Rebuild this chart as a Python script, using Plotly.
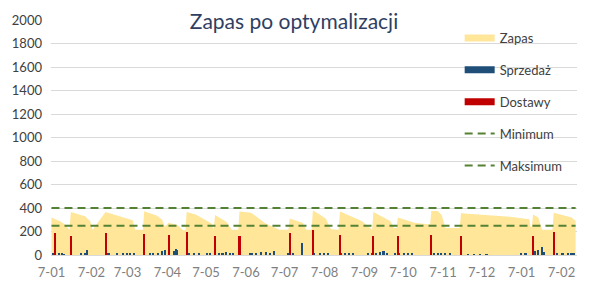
import plotly.graph_objects as go

# ---------------- data ----------------
TITLE = "Zapas po optymalizacji"

# Zapas (stock level) - vertices
zapas_dates = [
    "2017-01-01", "2017-01-08", "2017-01-12", "2017-01-15", "2017-01-16", "2017-01-27", "2017-01-31",
    "2017-02-02", "2017-02-12", "2017-02-26", "2017-03-05", "2017-03-07", "2017-03-13", "2017-03-14",
    "2017-03-24", "2017-03-28", "2017-03-30", "2017-04-02", "2017-04-09", "2017-04-13", "2017-04-15",
    "2017-04-16", "2017-04-23", "2017-05-05", "2017-05-07", "2017-05-08", "2017-05-17", "2017-05-21",
    "2017-05-26", "2017-05-27", "2017-06-05", "2017-06-16", "2017-06-22", "2017-06-27", "2017-07-04",
    "2017-07-05", "2017-07-15", "2017-07-18", "2017-07-22", "2017-07-23", "2017-08-02", "2017-08-06",
    "2017-08-12", "2017-08-13", "2017-08-30", "2017-09-03", "2017-09-07", "2017-09-08", "2017-09-21",
    "2017-09-24", "2017-09-26", "2017-09-27", "2017-10-10", "2017-10-22", "2017-10-23", "2017-10-28",
    "2017-10-31", "2017-11-03", "2017-11-14", "2017-11-15", "2017-12-05", "2017-12-23", "2018-01-07",
    "2018-01-08", "2018-01-09", "2018-01-10", "2018-01-14", "2018-01-17", "2018-01-25", "2018-01-26",
    "2018-02-09", "2018-02-12",
]
zapas_values = [
    320, 285, 255, 210, 365, 330, 290,
    215, 365, 320, 295, 215, 215, 373,
    335, 300, 240, 275, 255, 210, 210,
    365, 345, 270, 215, 340, 280, 215,
    215, 370, 360, 270, 240, 215, 215,
    310, 275, 215, 215, 380, 310, 220,
    215, 370, 290, 250, 215, 365, 290,
    230, 230, 320, 275, 260, 375, 375,
    340, 230, 230, 355, 340, 325, 305,
    240, 240, 345, 320, 215, 215, 360,
    320, 290,
]

# Sprzedaż (sales)
sales_dates = [
    "2017-01-02", "2017-01-04", "2017-01-07", "2017-01-09", "2017-01-11", "2017-01-24", "2017-01-27",
    "2017-01-29", "2017-02-13", "2017-02-15", "2017-02-21", "2017-02-26", "2017-03-01", "2017-03-03",
    "2017-03-06", "2017-03-19", "2017-03-21", "2017-03-25", "2017-03-28", "2017-03-30", "2017-04-06",
    "2017-04-08", "2017-04-09", "2017-04-18", "2017-04-22", "2017-04-26", "2017-05-02", "2017-05-04",
    "2017-05-11", "2017-05-14", "2017-05-17", "2017-05-20", "2017-05-22", "2017-06-04", "2017-06-06",
    "2017-06-09", "2017-06-13", "2017-06-17", "2017-06-20", "2017-06-23", "2017-07-04", "2017-07-08",
    "2017-07-15", "2017-07-24", "2017-07-29", "2017-08-01", "2017-08-04", "2017-08-14", "2017-08-17",
    "2017-08-20", "2017-08-23", "2017-09-04", "2017-09-07", "2017-09-10", "2017-09-13", "2017-09-16",
    "2017-09-19", "2017-09-25", "2017-09-28", "2017-10-02", "2017-10-05", "2017-10-08", "2017-10-23",
    "2017-10-25", "2017-10-28", "2017-10-31", "2017-11-03", "2017-11-07", "2017-11-21", "2017-11-25",
    "2017-11-30", "2017-12-05", "2018-01-01", "2018-01-04", "2018-01-05", "2018-01-12", "2018-01-14",
    "2018-01-17", "2018-01-19", "2018-01-29", "2018-02-02", "2018-02-06", "2018-02-09", "2018-02-11",
]
sales_values = [
    15, 20, 10, 18, 8, 12, 20,
    45, 10, 15, 10, 15, 20, 12,
    18, 15, 20, 12, 35, 40, 30,
    55, 45, 15, 12, 15, 18, 12,
    20, 15, 25, 12, 18, 15, 20,
    15, 22, 25, 18, 30, 10, 12,
    100, 15, 10, 12, 15, 15, 20,
    12, 18, 15, 20, 12, 25, 30,
    18, 12, 15, 20, 12, 15, 12,
    15, 18, 10, 12, 10, 8, 8,
    6, 8, 10, 15, 12, 30, 45,
    70, 25, 10, 12, 15, 12, 10,
]

# Dostawy (deliveries)
delivery_dates = [
    "2017-01-04", "2017-01-16", "2017-02-12", "2017-03-14", "2017-04-02", "2017-04-16",
    "2017-05-08", "2017-05-27", "2017-07-05", "2017-07-23", "2017-08-13", "2017-09-08",
    "2017-09-27", "2017-10-23", "2017-11-15", "2018-01-10", "2018-01-26",
]
delivery_values = [
    185, 160, 185, 180, 170, 200,
    165, 165, 185, 213, 172, 166,
    166, 172, 160, 166, 199,
]

MIN_LEVEL = 250
MAX_LEVEL = 400
level_dates = ["2017-01-01", "2018-02-12"]

tick_dates = [
    "2017-01-01", "2017-02-01", "2017-03-01", "2017-04-01", "2017-05-01", "2017-06-01", "2017-07-01",
    "2017-08-01", "2017-09-01", "2017-10-01", "2017-11-01", "2017-12-01", "2018-01-01", "2018-02-01",
]
tick_labels = ["7-01", "7-02", "7-03", "7-04", "7-05", "7-06", "7-07",
               "7-08", "7-09", "7-10", "7-11", "7-12", "7-01", "7-02"]

# ---------------- styles ----------------
C_ZAPAS = "#FFE699"
C_SALES = "#1F4E79"
C_DELIV = "#C00000"
C_LEVEL = "#548235"
FONT = "Lato"
DAY_MS = 86400000

fig = go.Figure()

# area on base axes
fig.add_trace(go.Scatter(
    x=zapas_dates, y=zapas_values, mode="lines", fill="tozeroy",
    fillcolor=C_ZAPAS, line=dict(width=0, color=C_ZAPAS),
    showlegend=False, hoverinfo="skip",
))

# bars and lines on overlay axes (drawn above the area)
fig.add_trace(go.Bar(
    x=sales_dates, y=sales_values, marker=dict(color=C_SALES, line=dict(width=0)),
    width=1.2 * DAY_MS, showlegend=False, yaxis="y2",
))
fig.add_trace(go.Bar(
    x=delivery_dates, y=delivery_values, marker=dict(color=C_DELIV, line=dict(width=0)),
    width=1.6 * DAY_MS, showlegend=False, yaxis="y2",
))
fig.add_trace(go.Scatter(
    x=level_dates, y=[MIN_LEVEL] * len(level_dates), mode="lines",
    line=dict(color=C_LEVEL, width=2, dash="8px,5px"), showlegend=False, yaxis="y2",
))
fig.add_trace(go.Scatter(
    x=level_dates, y=[MAX_LEVEL] * len(level_dates), mode="lines",
    line=dict(color=C_LEVEL, width=2, dash="8px,5px"), showlegend=False, yaxis="y2",
))

# legend entries
legend_items = [
    ("Zapas", C_ZAPAS, 7, "solid"),
    ("Sprzedaż", C_SALES, 7, "solid"),
    ("Dostawy", C_DELIV, 7, "solid"),
    ("Minimum", C_LEVEL, 2, "8px,5px"),
    ("Maksimum", C_LEVEL, 2, "8px,5px"),
]
for name, col, w, dash in legend_items:
    fig.add_trace(go.Scatter(
        x=[None], y=[None], mode="lines", name=name, legendgroup=name,
        line=dict(color=col, width=w, dash=dash), yaxis="y2",
    ))

x_range = ["2016-12-31 15:00", "2018-02-13 02:00"]

fig.update_layout(
    width=600, height=304,
    margin=dict(l=48, r=23, t=14, b=49),
    paper_bgcolor="white", plot_bgcolor="white",
    font=dict(family=FONT, size=13, color="#404040"),
    title=dict(text=TITLE, x=0.49, xanchor="center", y=1 - 22 / 304, yanchor="middle",
               yref="container", font=dict(family=FONT, size=21, color="#2F3F63")),
    bargap=0, barmode="overlay",
    xaxis=dict(type="date", range=x_range, tickvals=tick_dates, ticktext=tick_labels,
               showgrid=False, zeroline=False, showline=False, ticks="",
               tickfont=dict(family=FONT, size=13, color="#7F7F7F"), ticklabelstandoff=8),
    yaxis=dict(range=[0, 2000], dtick=200, showgrid=True, gridcolor="#D9D9D9", gridwidth=1,
               zeroline=True, zerolinecolor="#D9D9D9", zerolinewidth=1, showline=False, ticks="",
               tickfont=dict(family=FONT, size=13, color="#404040"), ticklabelstandoff=8),
    yaxis2=dict(range=[0, 2000], overlaying="y", side="left", visible=False, showgrid=False),
    legend=dict(x=(459 - 48) / 529, xanchor="left", y=(255 - 17) / 241, yanchor="top",
                bgcolor="rgba(0,0,0,0)", borderwidth=0, tracegroupgap=12,
                traceorder="grouped", font=dict(family=FONT, size=13, color="#404040")),
    showlegend=True,
)

fig.write_html("out.html")
